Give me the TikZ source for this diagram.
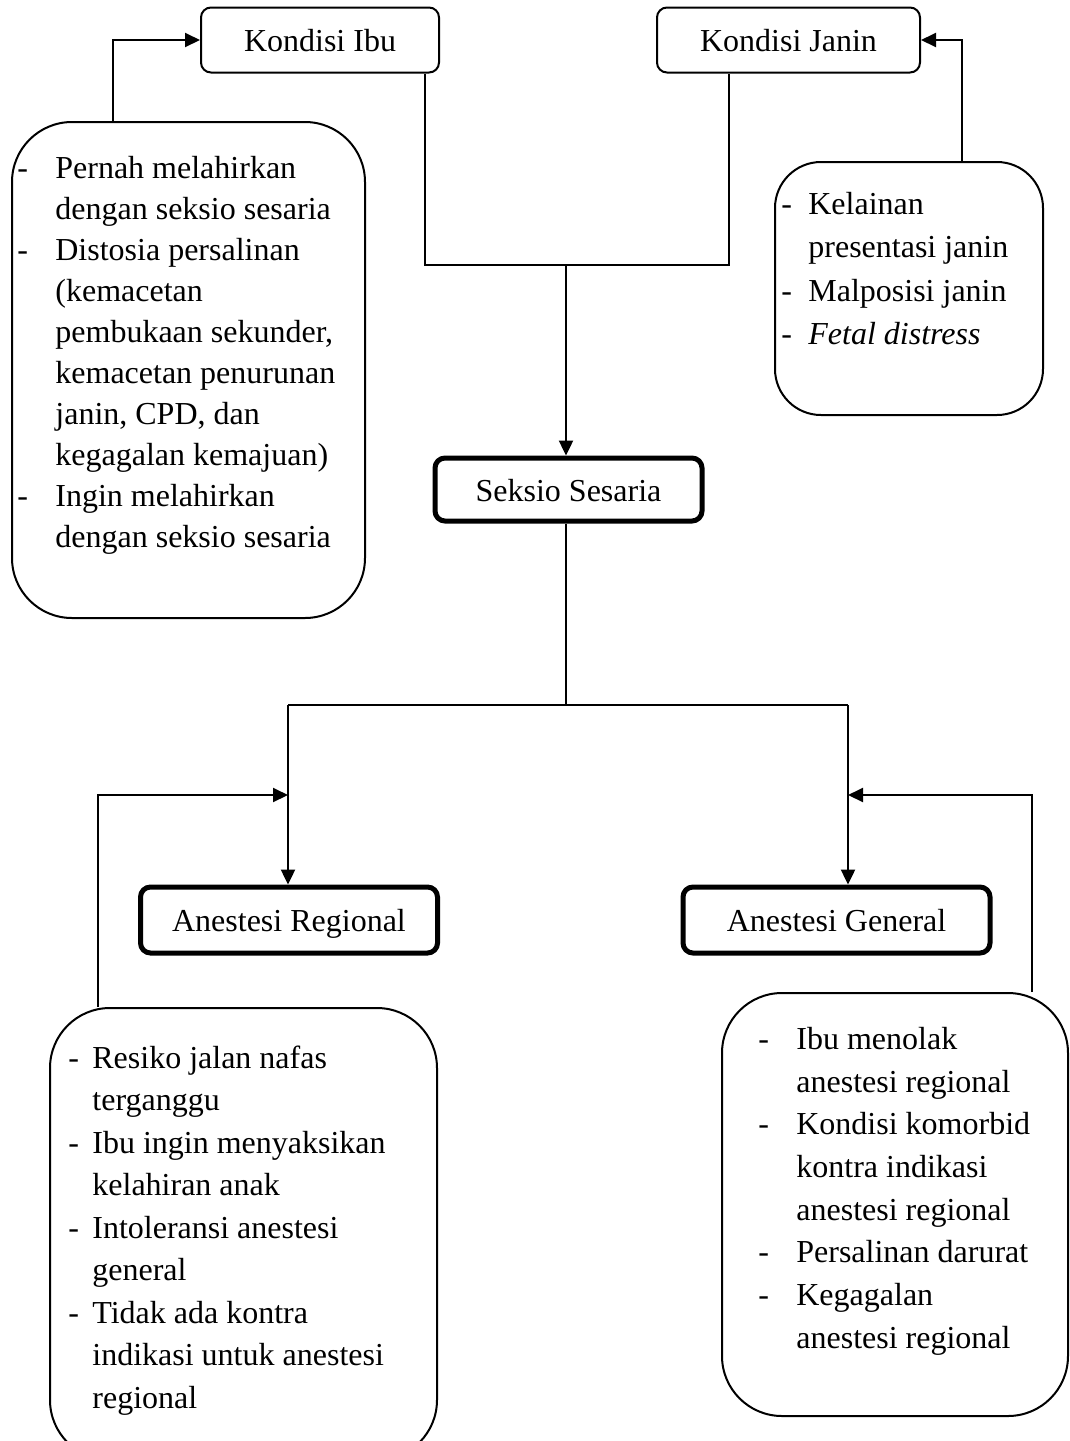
\documentclass[tikz,border=0pt]{standalone}
\usepackage{fontspec}
\setmainfont{Liberation Serif}
\usetikzlibrary{arrows.meta,calc}
\begin{document}
\begin{tikzpicture}[x=0.5pt,y=-0.5pt,
  hdr/.style={draw, line width=1pt, rounded corners=5pt, inner sep=0pt, text height=14pt, text depth=2.4pt, font=\fontsize{16}{18}\selectfont},
  mainbox/.style={draw, line width=2.5pt, rounded corners=5pt, inner sep=0pt, text height=14pt, text depth=2.4pt, font=\fontsize{16}{18}\selectfont},
  cbox/.style={draw, line width=1pt, rounded corners=30pt, inner sep=0pt},
  lst/.style={anchor=north west, inner sep=0pt, align=left},
  conn/.style={line width=1.2pt},
  fb/.style={line width=1pt},
  arr/.style={-{Triangle[length=7.5pt,width=7pt]}}
]
\useasboundingbox (0,0) rectangle (1070,1441);
\clip (0,0) rectangle (1070,1441);

% header boxes
\node[hdr, minimum width=119pt, minimum height=32.5pt] (ibu) at (320,40) {Kondisi Ibu};
\node[hdr, minimum width=131.5pt, minimum height=32.5pt] (janin) at (788.5,40) {Kondisi Janin};
\node[mainbox, minimum width=133.5pt, minimum height=31.5pt] (seksio) at (568.5,489.5) {Seksio Sesaria};
\node[mainbox, minimum width=148.5pt, minimum height=33pt] (regional) at (289,920) {Anestesi Regional};
\node[mainbox, minimum width=153.5pt, minimum height=33pt] (general) at (836.5,920) {Anestesi General};

% content boxes
\node[cbox, minimum width=176.5pt, minimum height=248pt] (ibubox) at (188.5,370) {};
\node[cbox, rounded corners=23pt, minimum width=134pt, minimum height=126.5pt] (janinbox) at (909,288.5) {};
\node[cbox, minimum width=193.5pt, minimum height=226pt] (regbox) at (243.5,1234) {};
\node[cbox, minimum width=173pt, minimum height=211.5pt] (genbox) at (895,1204.5) {};

% texts
\node[lst, font=\fontsize{16}{20.5}\selectfont] (ibutxt) at (17,149) {\begin{tabular}{@{}p{19pt}@{}l@{}}
- & Pernah melahirkan\\
  & dengan seksio sesaria\\
- & Distosia persalinan\\
  & (kemacetan\\
  & pembukaan sekunder,\\
  & kemacetan penurunan\\
  & janin, CPD, dan\\
  & kegagalan kemajuan)\\
- & Ingin melahirkan\\
  & dengan seksio sesaria
\end{tabular}};

\node[lst, font=\fontsize{16}{21.6}\selectfont] (janintxt) at (781,184) {\begin{tabular}{@{}p{13.5pt}@{}l@{}}
- & Kelainan\\
  & presentasi janin\\
- & Malposisi janin\\
- & \textit{Fetal distress}
\end{tabular}};

\node[lst, font=\fontsize{16}{21.25}\selectfont] (regtxt) at (68,1038) {\begin{tabular}{@{}p{12pt}@{}l@{}}
- & Resiko jalan nafas\\
  & terganggu\\
- & Ibu ingin menyaksikan\\
  & kelahiran anak\\
- & Intoleransi anestesi\\
  & general\\
- & Tidak ada kontra\\
  & indikasi untuk anestesi\\
  & regional
\end{tabular}};

\node[lst, font=\fontsize{16}{21.35}\selectfont] (gentxt) at (758,1019) {\begin{tabular}{@{}p{19pt}@{}l@{}}
- & Ibu menolak\\
  & anestesi regional\\
- & Kondisi komorbid\\
  & kontra indikasi\\
  & anestesi regional\\
- & Persalinan darurat\\
- & Kegagalan\\
  & anestesi regional
\end{tabular}};

% coordinates
\coordinate (jL) at (425,265);
\coordinate (jR) at (729,265);
\coordinate (jM) at (566,265);
\coordinate (sB) at (566,705);
\coordinate (bL) at (288,705);
\coordinate (bR) at (848,705);
\coordinate (fL) at (113,0);
\coordinate (fJ) at (962,0);
\coordinate (fR) at (98,0);
\coordinate (fG) at (1032,0);
\coordinate (rt) at (288,795);
\coordinate (gt) at (848,795);

% main connectors
\draw[conn] (ibu.south -| jL) -- (jL) -- (jR) -- (janin.south -| jR);
\draw[conn,arr] (jM) -- (seksio.north -| jM);
\draw[conn] (seksio.south -| sB) -- (sB);
\draw[conn] (bL) -- (bR);
\draw[conn,arr] (bL) -- (regional.north -| bL);
\draw[conn,arr] (bR) -- (general.north -| bR);

% feedback connectors
\draw[fb,arr] (ibubox.north -| fL) |- (ibu.west);
\draw[fb,arr] (janinbox.north -| fJ) |- (janin.east);
\draw[fb,arr] (regbox.north -| fR) |- (rt);
\draw[fb,arr] (genbox.north -| fG) |- (gt);
\end{tikzpicture}
\end{document}
